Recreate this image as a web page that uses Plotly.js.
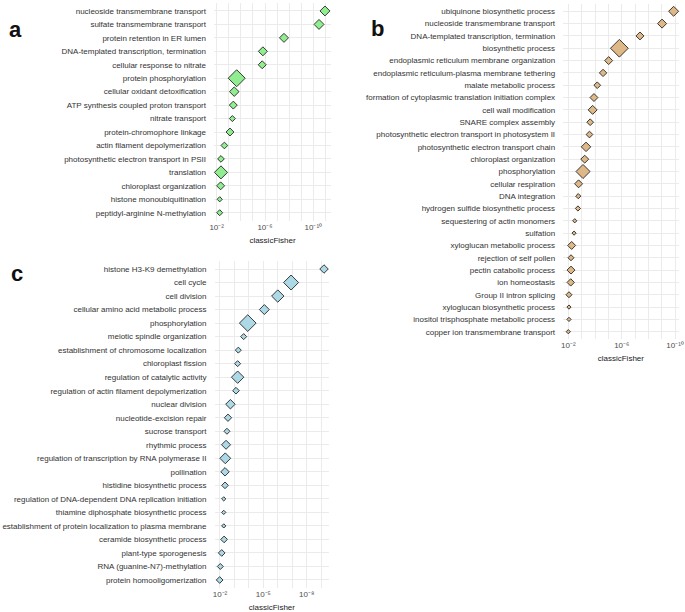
<!DOCTYPE html>
<html>
<head>
<meta charset="utf-8">
<script src="https://cdn.plot.ly/plotly-3.0.1.min.js"></script>
<style>html,body{margin:0;padding:0;background:#fff;}#chart{width:685px;height:612px;}</style>
</head>
<body>
<div id="chart"></div>
<script>
// ---- Panel a ----
const termsA = ["nucleoside transmembrane transport","sulfate transmembrane transport","protein retention in ER lumen","DNA-templated transcription, termination","cellular response to nitrate","protein phosphorylation","cellular oxidant detoxification","ATP synthesis coupled proton transport","nitrate transport","protein-chromophore linkage","actin filament depolymerization","photosynthetic electron transport in PSII","translation","chloroplast organization","histone monoubiquitination","peptidyl-arginine N-methylation"];
const pA = [1.1e-11,3.4e-11,2.7e-8,1.5e-6,1.7e-6,2.2e-4,3.5e-4,4.2e-4,5.0e-4,7.9e-4,2.3e-3,4.4e-3,4.4e-3,4.7e-3,5.6e-3,5.6e-3];
const sigA = [11,11,9,9,7,32,10,7,4,7,5,5,19,7,3,4];

// ---- Panel b ----
const termsB = ["ubiquinone biosynthetic process","nucleoside transmembrane transport","DNA-templated transcription, termination","biosynthetic process","endoplasmic reticulum membrane organization","endoplasmic reticulum-plasma membrane tethering","malate metabolic process","formation of cytoplasmic translation initiation complex","cell wall modification","SNARE complex assembly","photosynthetic electron transport in photosystem II","photosynthetic electron transport chain","chloroplast organization","phosphorylation","cellular respiration","DNA integration","hydrogen sulfide biosynthetic process","sequestering of actin monomers","sulfation","xyloglucan metabolic process","rejection of self pollen","pectin catabolic process","ion homeostasis","Group II intron splicing","xyloglucan biosynthetic process","inositol trisphosphate metabolic process","copper ion transmembrane transport"];
const pB = [1.3e-10,9.5e-10,4.3e-8,1.5e-6,9.5e-6,2.5e-5,6.8e-5,1.2e-4,1.5e-4,2.3e-4,2.6e-4,4.7e-4,5.9e-4,7.9e-4,1.7e-3,1.8e-3,1.9e-3,3.3e-3,3.7e-3,5.6e-3,6.3e-3,6.3e-3,6.6e-3,8.9e-3,8.9e-3,8.9e-3,1.0e-2];
const sigB = [11,9,7,35,7,6,5,7,9,5,5,10,7,22,7,3,3,2,2,7,4,7,6,4,2,2,2];

// ---- Panel c ----
const termsC = ["histone H3-K9 demethylation","cell cycle","cell division","cellular amino acid metabolic process","phosphorylation","meiotic spindle organization","establishment of chromosome localization","chloroplast fission","regulation of catalytic activity","regulation of actin filament depolymerization","nuclear division","nucleotide-excision repair","sucrose transport","rhythmic process","regulation of transcription by RNA polymerase II","pollination","histidine biosynthetic process","regulation of DNA-dependent DNA replication initiation","thiamine diphosphate biosynthetic process","establishment of protein localization to plasma membrane","ceramide biosynthetic process","plant-type sporogenesis","RNA (guanine-N7)-methylation","protein homooligomerization"];
const pC = [6.3e-10,1.2e-7,1.0e-6,8.5e-6,1.2e-4,2.3e-4,5.4e-4,6.0e-4,6.0e-4,7.8e-4,1.9e-3,2.8e-3,3.3e-3,3.8e-3,4.3e-3,4.5e-3,4.5e-3,5.5e-3,5.5e-3,5.5e-3,5.2e-3,7.6e-3,9.5e-3,1.05e-2];
const sigC = [8,25,17,11,31,4,4,4,17,5,10,6,4,9,13,8,5,2,2,2,5,5,4,5];

const decades = [1e-1,1e-2,1e-3,1e-4,1e-5,1e-6,1e-7,1e-8,1e-9,1e-10,1e-11,1e-12];
const breaksA = [1e-2,1e-6,1e-10];
const breaksB = [1e-2,1e-6,1e-10];
const breaksC = [1e-2,1e-5,1e-8];

const FONT = "Liberation Sans, Arial, Helvetica, sans-serif";
const SUP = {"0":"\u2070","1":"\u00B9","2":"\u00B2","3":"\u00B3","4":"\u2074","5":"\u2075","6":"\u2076","7":"\u2077","8":"\u2078","9":"\u2079"};
function sz(s){ return s.map(v => 3.0*Math.sqrt(v)/1.3); }
function ticktext(br){ return br.map(d => "10\u207B" + String(Math.round(-Math.log10(d))).split("").map(c => SUP[c]).join("")); }

function tr(terms, p, sig, color, xa, ya){
  return {type:"scatter", mode:"markers", x:p, y:terms, xaxis:xa, yaxis:ya,
    marker:{symbol:"diamond", size:sz(sig), color:color, opacity:1, line:{color:"#262626", width:0.9}},
    hoverinfo:"x+y", showlegend:false, cliponaxis:false};
}

function xax(dom, rng, br, anchor){
  return {domain:dom, type:"log", range:rng, anchor:anchor, tickmode:"array", tickvals:br, ticktext:ticktext(br),
    showgrid:true, gridcolor:"#ebebeb", gridwidth:1, zeroline:false, showline:false, ticks:"",
    minor:{tickmode:"array", tickvals:decades, showgrid:true, gridcolor:"#ebebeb", gridwidth:1, ticks:""},
    tickfont:{family:FONT, size:8, color:"#4d4d4d"}, fixedrange:true,
    title:{text:"classicFisher", font:{family:FONT, size:8, color:"#1a1a1a"}, standoff:6}};
}
function yax(dom, terms, anchor){
  const n = terms.length;
  return {domain:dom, type:"category", categoryorder:"array", categoryarray:terms, range:[n-1+0.6,-0.6], anchor:anchor,
    showgrid:true, gridcolor:"#ebebeb", gridwidth:1, zeroline:false, showline:false, ticks:"",
    ticklabelstandoff:7, tickfont:{family:FONT, size:8, color:"#333333"}, fixedrange:true};
}

const data = [
  tr(termsA, pA, sigA, "#90EE90", "x", "y"),
  tr(termsB, pB, sigB, "#DEB887", "x2", "y2"),
  tr(termsC, pC, sigC, "#ADD8E6", "x3", "y3")
];

const layout = {
  width:685, height:612, margin:{l:0,r:0,t:0,b:0},
  paper_bgcolor:"#fff", plot_bgcolor:"#fff", font:{family:FONT},
  xaxis: xax([214/685, 331/685], [-1.78, -11.46], breaksA, "y"),
  yaxis: yax([1-220.8/612, 1-2.9/612], termsA, "x"),
  xaxis2: xax([563.1/685, 678.6/685], [-1.61, -10.26], breaksB, "y2"),
  yaxis2: yax([1-339.1/612, 1-3.9/612], termsB, "x2"),
  xaxis3: xax([214.5/685, 329.2/685], [-1.62, -9.56], breaksC, "y3"),
  yaxis3: yax([1-588.1/612, 1-260.9/612], termsC, "x3"),
  annotations:[
    {text:"<b>a</b>", xref:"paper", yref:"paper", x:7/685, y:1-15/612, showarrow:false, font:{family:FONT, size:22, color:"#111"}},
    {text:"<b>b</b>", xref:"paper", yref:"paper", x:377/685, y:1-14/612, showarrow:false, font:{family:FONT, size:22, color:"#111"}},
    {text:"<b>c</b>", xref:"paper", yref:"paper", x:9/685, y:1-273/612, showarrow:false, font:{family:FONT, size:22, color:"#111"}}
  ]
};

Plotly.newPlot("chart", data, layout, {displayModeBar:false, staticPlot:true});
</script>
</body>
</html>
